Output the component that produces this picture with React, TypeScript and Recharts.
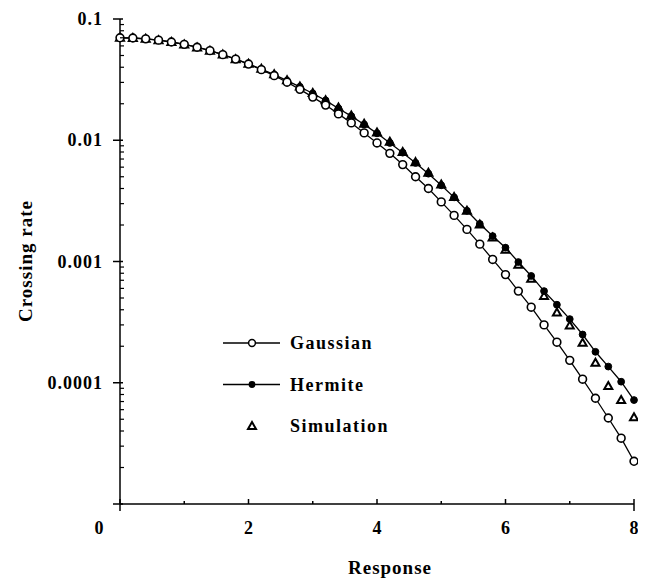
import { LineChart, Line, XAxis, YAxis } from 'recharts'

// response levels (x), every 0.2
const responses = [
  0, 0.2, 0.4, 0.6, 0.8, 1.0, 1.2, 1.4, 1.6, 1.8, 2.0, 2.2, 2.4, 2.6, 2.8, 3.0, 3.2, 3.4, 3.6, 3.8, 4.0,
  4.2, 4.4, 4.6, 4.8, 5.0, 5.2, 5.4, 5.6, 5.8, 6.0, 6.2, 6.4, 6.6, 6.8, 7.0, 7.2, 7.4, 7.6, 7.8, 8.0,
]

const gaussian = [
  0.07, 0.0697, 0.0686, 0.0669, 0.0646, 0.0618, 0.0585, 0.0548, 0.0508, 0.0467, 0.0425, 0.0382, 0.0341,
  0.0301, 0.0263, 0.0227, 0.0195, 0.0165, 0.0139, 0.0115, 0.0095, 0.0078, 0.0063, 0.005, 0.004, 0.0031,
  0.0024, 0.00184, 0.00139, 0.00104, 0.00078, 0.00057, 0.00042, 0.0003, 0.000216, 0.000153, 0.000107,
  0.0000745, 0.0000512, 0.0000349, 0.0000225,
]

const hermite = [
  0.07, 0.0697, 0.0686, 0.0669, 0.0646, 0.0618, 0.0585, 0.0548, 0.0508, 0.0467, 0.0426, 0.0386, 0.0348,
  0.031, 0.0276, 0.0243, 0.0213, 0.0183, 0.0158, 0.0135, 0.0114, 0.0095, 0.0079, 0.0065, 0.0053, 0.00425,
  0.00338, 0.00262, 0.00204, 0.00162, 0.0013, 0.00099, 0.00076, 0.00057, 0.00044, 0.000335, 0.00025,
  0.00018, 0.000136, 0.000102, 0.000072,
]

const simulation = [
  0.07, 0.0698, 0.0688, 0.0668, 0.0645, 0.0616, 0.0583, 0.0546, 0.051, 0.0466, 0.0428, 0.0388, 0.035,
  0.0312, 0.0278, 0.0245, 0.0214, 0.0186, 0.016, 0.0137, 0.0116, 0.0097, 0.008, 0.0066, 0.0054, 0.00432,
  0.0034, 0.00262, 0.00202, 0.00158, 0.00125, 0.00094, 0.00072, 0.00052, 0.00038, 0.000296, 0.000214,
  0.000146, 0.000094, 0.000072, 0.000052,
]

const xTicks = [0, 1, 2, 3, 4, 5, 6, 7, 8]
const xLabeled = [0, 2, 4, 6, 8]
const decades = [0.00001, 0.0001, 0.001, 0.01, 0.1]
const decadeLabels = ['', '0.0001', '0.001', '0.01', '0.1']
const mantissas = [1, 2, 3, 4, 5, 6, 7, 8, 9]

const yTicks: number[] = []
decades.slice(0, 4).forEach((d) => mantissas.forEach((m) => yTicks.push(+(d * m).toPrecision(3))))
yTicks.push(0.1)

const data = responses.map((x, i) => ({
  x,
  gaussian: gaussian[i],
  hermite: hermite[i],
  simulation: simulation[i],
}))

const FONT = '"Liberation Serif", "DejaVu Serif", serif'
const AXIS = { stroke: '#000', strokeWidth: 1.5 }

const YTick = (props: any) => {
  const { x, y, payload } = props
  const v = payload.value
  const di = decades.findIndex((d) => Math.abs(d - v) / d < 1e-6)
  if (di >= 0) {
    return (
      <g>
        <line x1={x - 7} x2={x + 3} y1={y} y2={y} stroke="#000" strokeWidth={1.5} />
        <text x={x - 17} y={y} dy={6} textAnchor="end" fontFamily={FONT} fontWeight="bold" fontSize={18} letterSpacing={1} fill="#000">
          {decadeLabels[di]}
        </text>
      </g>
    )
  }
  return <line x1={x} x2={x + 4} y1={y} y2={y} stroke="#000" strokeWidth={1.2} />
}

const XTick = (props: any) => {
  const { x, y, payload } = props
  const v = payload.value
  const labeled = xLabeled.includes(v)
  const edge = v === 0 || v === 8
  return (
    <g>
      <line x1={x} x2={x} y1={edge ? y + 7 : y} y2={y - (labeled ? 5 : 3)} stroke="#000" strokeWidth={1.5} />
      {labeled && (
        <text x={v === 0 ? x - 21 : x} y={y + 30} textAnchor="middle" fontFamily={FONT} fontWeight="bold" fontSize={18} fill="#000">
          {v}
        </text>
      )}
    </g>
  )
}

// small inward ticks on the top and right frame
const TopTick = (props: any) => {
  const { x, y } = props
  return <line x1={x} x2={x} y1={y} y2={y + 4} stroke="#000" strokeWidth={1.2} />
}

const RightTick = (props: any) => {
  const { x, y } = props
  return <line x1={x - 5} x2={x} y1={y} y2={y} stroke="#000" strokeWidth={1.2} />
}

const OpenCircle = (props: any) => {
  const { cx, cy } = props
  if (cx == null || cy == null) return null
  return <circle key={`g${cx}`} cx={cx} cy={cy} r={3.9} fill="#fff" stroke="#000" strokeWidth={1.6} />
}

const FilledDot = (props: any) => {
  const { cx, cy } = props
  if (cx == null || cy == null) return null
  return <circle key={`h${cx}`} cx={cx} cy={cy} r={3.4} fill="#000" stroke="#000" strokeWidth={1} />
}

const Triangle = (props: any) => {
  const { cx, cy } = props
  if (cx == null || cy == null) return null
  return (
    <path
      key={`s${cx}`}
      d={`M${cx},${cy - 4} L${cx + 4},${cy + 3} L${cx - 4},${cy + 3} Z`}
      fill="#fff"
      stroke="#000"
      strokeWidth={2}
      strokeLinejoin="miter"
    />
  )
}

const legendRows = [
  { name: 'Gaussian', kind: 'circle' },
  { name: 'Hermite', kind: 'dot' },
  { name: 'Simulation', kind: 'triangle' },
]

const LegendBox = () => (
  <svg width={200} height={115} style={{ position: 'absolute', left: 207, top: 314 }}>
    {legendRows.map((r, i) => {
      const y = 21 + i * 41.5
      return (
        <g key={r.name}>
          {r.kind !== 'triangle' && <line x1={8} x2={65} y1={y} y2={y} stroke="#000" strokeWidth={1.5} />}
          {r.kind === 'circle' && <circle cx={37} cy={y} r={3.4} fill="#fff" stroke="#000" strokeWidth={1.5} />}
          {r.kind === 'dot' && <circle cx={37} cy={y} r={3.4} fill="#000" />}
          {r.kind === 'triangle' && (
            <path d={`M37,${y - 4} L41,${y + 3} L33,${y + 3} Z`} fill="#fff" stroke="#000" strokeWidth={2} />
          )}
          <text x={75} y={y} dy={6} fontFamily={FONT} fontWeight="bold" fontSize={18} letterSpacing={1.5} fill="#000">
            {r.name}
          </text>
        </g>
      )
    })}
  </svg>
)

const YTitle = () => (
  <text
    x={24}
    y={253}
    transform="rotate(-90 24 253)"
    textAnchor="middle"
    fontFamily={FONT}
    fontWeight="bold"
    fontSize={19}
    letterSpacing={1}
    fill="#000"
  >
    Crossing rate
  </text>
)

const XTitle = () => (
  <text x={382} y={566} textAnchor="middle" fontFamily={FONT} fontWeight="bold" fontSize={19} letterSpacing={1} fill="#000">
    Response
  </text>
)

export default function App() {
  return (
    <div style={{ position: 'relative', width: 638, height: 573, background: '#fff' }}>
      <LineChart width={638} height={573} data={data} margin={{ top: 11, right: 12, left: 0, bottom: 0 }}>
        <XAxis
          dataKey="x"
          type="number"
          domain={[0, 8]}
          ticks={xTicks}
          tick={<XTick />}
          tickLine={false}
          tickSize={0}
          tickMargin={0}
          height={77}
          axisLine={AXIS}
          label={<XTitle />}
        />
        <XAxis
          xAxisId="top"
          orientation="top"
          dataKey="x"
          type="number"
          domain={[0, 8]}
          ticks={xTicks}
          tick={<TopTick />}
          tickLine={false}
          tickSize={0}
          tickMargin={0}
          height={0}
          axisLine={AXIS}
        />
        <YAxis
          type="number"
          scale="log"
          domain={[0.00001, 0.1]}
          ticks={yTicks}
          tick={<YTick />}
          tickLine={false}
          tickSize={0}
          tickMargin={0}
          width={112}
          allowDataOverflow
          interval={0}
          axisLine={AXIS}
          label={<YTitle />}
        />
        <YAxis
          yAxisId="right"
          orientation="right"
          type="number"
          scale="log"
          domain={[0.00001, 0.1]}
          ticks={decades}
          tick={<RightTick />}
          tickLine={false}
          tickSize={0}
          tickMargin={0}
          width={0}
          allowDataOverflow
          interval={0}
          axisLine={AXIS}
        />
        <Line
          dataKey="simulation"
          stroke="none"
          dot={<Triangle />}
          activeDot={false}
          isAnimationActive={false}
          legendType="none"
        />
        <Line
          dataKey="hermite"
          stroke="#000"
          strokeWidth={1.3}
          dot={<FilledDot />}
          activeDot={false}
          isAnimationActive={false}
        />
        <Line
          dataKey="gaussian"
          stroke="#000"
          strokeWidth={1.3}
          dot={<OpenCircle />}
          activeDot={false}
          isAnimationActive={false}
        />
      </LineChart>
      <LegendBox />
    </div>
  )
}
